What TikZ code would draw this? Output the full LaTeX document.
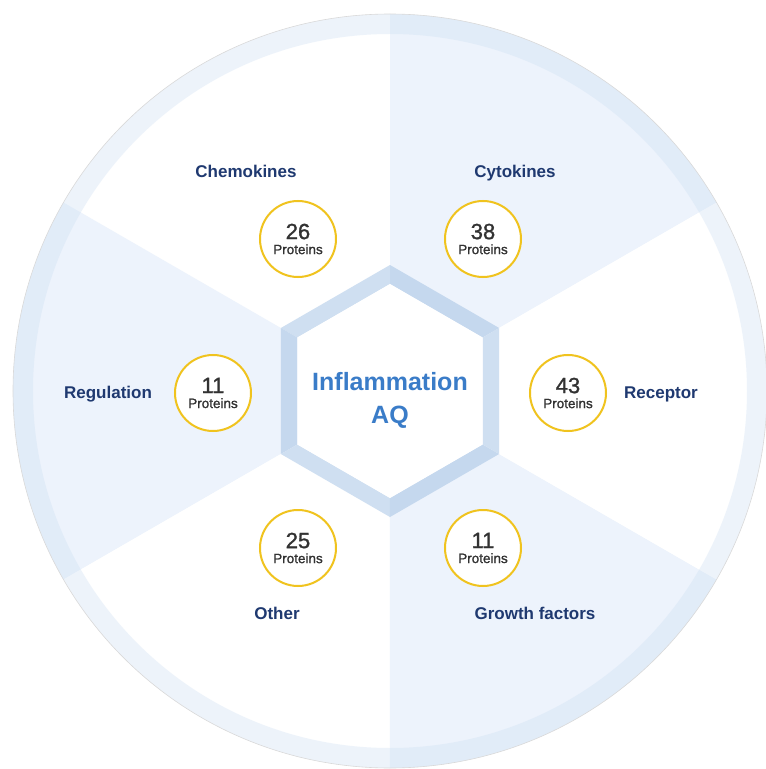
\documentclass[tikz,border=0pt]{standalone}
\usepackage{fontspec}
\setmainfont{Liberation Sans}
\newfontfamily\mediumfont[FakeBold=1.2]{Liberation Sans}
\usepackage{xcolor}
\definecolor{navy}{RGB}{31, 57, 112}
\definecolor{titleblue}{RGB}{58, 124, 200}
\definecolor{paleblue}{RGB}{237, 243, 252}
\definecolor{ringblue}{RGB}{205, 223, 243}
\definecolor{hexblue}{RGB}{197, 216, 238}
\definecolor{hexlight}{RGB}{207, 223, 241}
\definecolor{gold}{RGB}{240, 195, 30}
\definecolor{numgrey}{RGB}{50, 50, 50}
\usepackage{tikz}

\begin{document}
\begin{tikzpicture}[
  x=1pt, y=1pt,
  count/.style={circle, draw=gold, line width=2pt, fill=white,
    minimum size=76pt, inner sep=0pt, align=center, text=numgrey,
    font=\mediumfont\fontsize{13.5}{15}\selectfont},
  group/.style={text=navy, font=\bfseries\fontsize{17}{17}\selectfont},
  hub/.style={text=titleblue, align=center,
    font=\bfseries\fontsize{25}{33}\selectfont}
]
\useasboundingbox (-390,-378) rectangle (376,391);

% six sectors of the wheel
\foreach \a/\c in {30/paleblue, 90/white, 150/paleblue,
                   210/white, 270/paleblue, 330/white}
  \fill[\c] (0,0) -- (\a:377) arc[start angle=\a, end angle=\a+60, radius=377] -- cycle;

% rim band and edge
\fill[ringblue, opacity=0.35, even odd rule] (0,0) circle (377) (0,0) circle (357);
\draw[black!15, line width=0.6pt] (0,0) circle (377);

% hexagon frame
\foreach \a/\c in {30/hexblue, 90/hexlight, 150/hexblue,
                   210/hexlight, 270/hexblue, 330/hexlight}
  \fill[\c] (\a:126) -- (\a+60:126) -- (\a+60:107) -- (\a:107) -- cycle;
\fill[white] (30:107) -- (90:107) -- (150:107) -- (210:107)
  -- (270:107) -- (330:107) -- cycle;

\node (hub) [hub] at (0,-9) {Inflammation\\AQ};

% protein counts
\node (chemo)  [count] at (-92,152)  {{\fontsize{22}{22}\selectfont 26}\\Proteins};
\node (cyto)   [count] at (93,152)   {{\fontsize{22}{22}\selectfont 38}\\Proteins};
\node (regul)  [count] at (-177,-2)  {{\fontsize{22}{22}\selectfont 11}\\Proteins};
\node (recep)  [count] at (178,-2)   {{\fontsize{22}{22}\selectfont 43}\\Proteins};
\node (other)  [count] at (-92,-157) {{\fontsize{22}{22}\selectfont 25}\\Proteins};
\node (growth) [count] at (93,-157)  {{\fontsize{22}{22}\selectfont 11}\\Proteins};

% group names
\node (chemo-l)  [group] at (-144,220)  {Chemokines};
\node (cyto-l)   [group] at (125,218)   {Cytokines};
\node (regul-l)  [group] at (-282,-3)   {Regulation};
\node (recep-l)  [group] at (271,-3)    {Receptor};
\node (other-l)  [group] at (-113,-222) {Other};
\node (growth-l) [group] at (145,-222)  {Growth factors};

\end{tikzpicture}
\end{document}
